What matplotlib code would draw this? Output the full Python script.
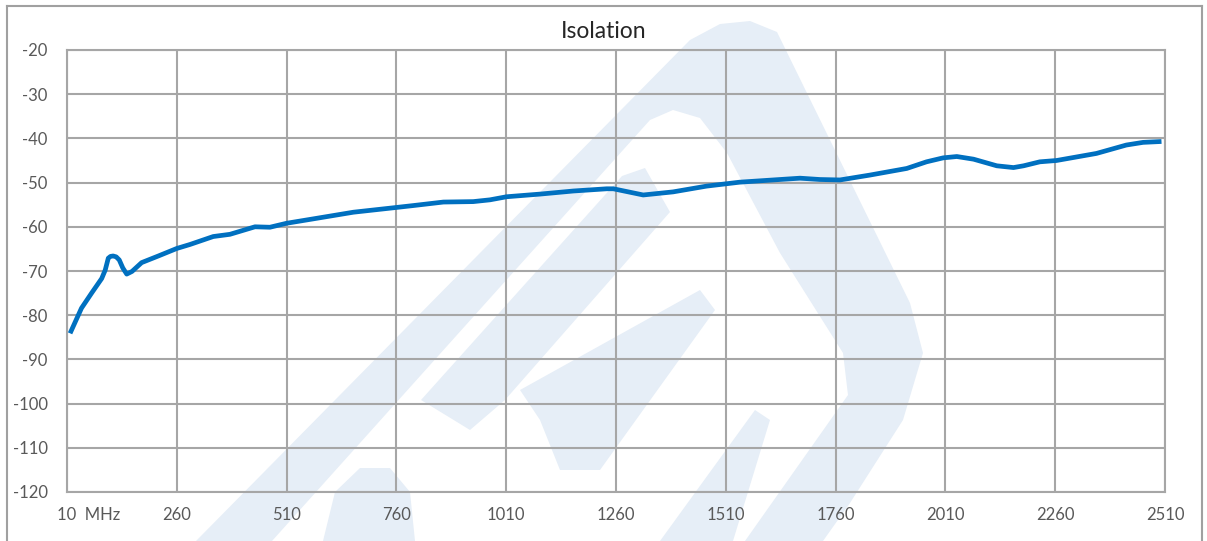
import matplotlib
matplotlib.use("Agg")
import matplotlib.pyplot as plt
from matplotlib.patches import Polygon
from matplotlib.lines import Line2D
import matplotlib.transforms as mtransforms

W, H = 1207, 541
GRID = "#a6a6a6"; LINE_C = "#0070c0"; TXT = "#595959"; WM = "#e6eef7"

plt.rcParams["font.family"] = ["Lato", "DejaVu Sans"]
plt.rcParams["axes.unicode_minus"] = False

# isolation curve (MHz, dB)
freq = [17, 43, 66, 89, 97, 104, 109, 115, 122, 129, 137, 146, 158, 180, 218, 260,
        290, 343, 381, 438, 472, 510, 571, 662, 753, 798, 867, 935, 973, 1011, 1087,
        1163, 1239, 1254, 1322, 1390, 1466, 1542, 1618, 1679, 1724, 1770, 1838, 1922,
        1967, 2005, 2036, 2074, 2127, 2165, 2188, 2225, 2263, 2354, 2422, 2460, 2502]
iso = [-84.1, -78.4, -75.0, -71.7, -69.8, -67.1, -66.7, -66.6, -66.8, -67.5, -69.3,
       -70.7, -70.1, -68.1, -66.6, -64.9, -64.0, -62.2, -61.7, -60.0, -60.1, -59.2,
       -58.2, -56.7, -55.7, -55.2, -54.4, -54.3, -53.9, -53.2, -52.6, -51.9, -51.4,
       -51.4, -52.8, -52.1, -50.8, -49.9, -49.4, -49.0, -49.3, -49.4, -48.3, -46.8,
       -45.3, -44.4, -44.1, -44.7, -46.2, -46.6, -46.2, -45.3, -45.0, -43.4, -41.5,
       -40.9, -40.7]
xticks = [10, 260, 510, 760, 1010, 1260, 1510, 1760, 2010, 2260, 2510]
xlabels = ["10  MHz"] + [str(t) for t in xticks[1:]]
yticks = list(range(-120, -10, 10))

fig = plt.figure(figsize=(W / 100, H / 100), dpi=100)
ax = fig.add_axes([67 / W, 1 - 492 / H, (1165 - 67) / W, (492 - 50) / H])
ax.patch.set_alpha(0)

def px(pts):
    return [(x / W, 1 - y / H) for x, y in pts]

# faint logo watermark behind the grid (rough outline)
shapes = [
    # outer rounded triangle
    [(196, 541), (690, 40), (720, 24), (750, 21), (777, 32), (910, 303), (923, 353),
     (903, 420), (850, 503), (823, 541), (745, 541), (848, 395), (843, 353),
     (780, 253), (727, 153), (700, 118), (673, 110), (650, 120), (272, 541)],
    # middle diagonal stripe
    [(421, 400), (622, 176), (645, 168), (670, 212), (505, 400), (470, 430)],
    # inner bar
    [(520, 390), (700, 290), (715, 310), (600, 470), (560, 470), (540, 420)],
    # lower stripe
    [(660, 541), (755, 410), (770, 420), (733, 541)],
    # bottom-left hump
    [(323, 541), (335, 492), (360, 468), (390, 468), (410, 492), (415, 541)],
]
for s in shapes:
    ax.add_patch(Polygon(px(s), closed=True, transform=fig.transFigure,
                         facecolor=WM, edgecolor="none", zorder=0.1, clip_on=False))

# outer chart frame
for xs, ys in [([7, 7], [6, 541]), ([7, 1202], [6, 6]), ([1202, 1202], [6, 541])]:
    fig.lines.append(Line2D([x / W for x in xs], [1 - y / H for y in ys],
                            transform=fig.transFigure, color="#a0a0a0", lw=1.5))

ax.plot(freq, iso, color=LINE_C, lw=3.4, solid_joinstyle="round",
        solid_capstyle="butt", zorder=3)

ax.set_xlim(10, 2510)
ax.set_ylim(-120, -20)
ax.set_xticks(xticks)
ax.set_xticklabels(xlabels)
ax.set_yticks(yticks)
ax.grid(True, color=GRID, lw=1.5)
ax.set_axisbelow(True)
for s in ax.spines.values():
    s.set_color(GRID); s.set_linewidth(1.5)
ax.tick_params(length=0, labelsize=12, labelcolor=TXT)
ax.tick_params(axis="y", pad=14)
ax.tick_params(axis="x", pad=11)
first = ax.get_xticklabels()[0]
first.set_ha("left")
first.set_transform(first.get_transform() + mtransforms.ScaledTranslation(-10 / 100, 0, fig.dpi_scale_trans))

# title is centred on the whole chart, not the plot area
fig.text(0.5, 1 - 31 / H, "Isolation", fontsize=16.5, color="#262626",
         ha="center", va="center")

fig.savefig("out.png", dpi=100)
